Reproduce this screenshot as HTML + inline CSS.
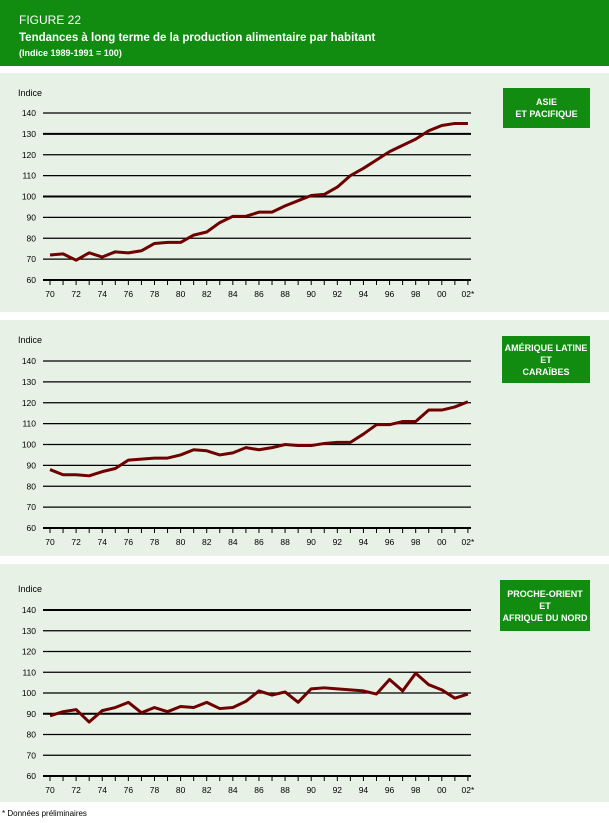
<!DOCTYPE html>
<html><head><meta charset="utf-8"><style>
body{margin:0;width:609px;height:823px;background:#fff;font-family:"Liberation Sans",sans-serif;position:relative;overflow:hidden}
#hdr{position:absolute;left:0;top:0;width:609px;height:66px;background:#118c11;color:#fff}
.p{position:absolute;left:0;width:609px;background:#e8f1e6}
svg{position:absolute;left:0;top:0}
.box{position:absolute;background:#118c11;color:#fff;font-size:9px;font-weight:bold;text-align:center;line-height:12px;display:flex;align-items:center;justify-content:center}
</style></head><body>
<div id="hdr">
<div style="position:absolute;left:19px;top:13px;font-size:12px">FIGURE 22</div>
<div style="position:absolute;left:19px;top:32px;font-size:11.5px;font-weight:bold">Tendances à long terme de la production alimentaire par habitant</div>
<div style="position:absolute;left:19px;top:48px;font-size:9px;font-weight:bold">(Indice 1989-1991 = 100)</div>
</div>
<div class="p" style="top:73px;height:239px"></div>
<div class="p" style="top:320px;height:236px"></div>
<div class="p" style="top:564px;height:238px"></div>
<div class="box" style="left:503px;top:88px;width:87px;height:40px">ASIE<br>ET PACIFIQUE</div>
<div class="box" style="left:502px;top:336px;width:88px;height:47px">AMÉRIQUE LATINE<br>ET<br>CARAÏBES</div>
<div class="box" style="left:500px;top:580px;width:90px;height:51px">PROCHE-ORIENT<br>ET<br>AFRIQUE DU NORD</div>
<div style="position:absolute;left:2px;top:809px;font-size:8px">* Données préliminaires</div>
<svg id="s" width="609" height="823"></svg>
<script>
var charts=[
{top:113,bot:280,lab:92,bold:[130,100],d:[72,72.5,69.5,73,71,73.5,73,74,77.5,78,78,81.5,83,87.5,90.5,90.5,92.5,92.5,95.5,98,100.5,101,104.5,110,113.5,117.5,121.5,124.5,127.5,131.5,134,135,135]},
{top:361,bot:528,lab:339,bold:[],d:[88,85.5,85.5,85,87,88.5,92.5,93,93.5,93.5,95,97.5,97,95,96,98.5,97.5,98.5,100,99.5,99.5,100.5,101,101,105,109.5,109.5,111,111,116.5,116.5,118,120.5]},
{top:610,bot:776,lab:588,bold:[140,90],d:[89,91,92,86,91.5,93,95.5,90.5,93,91,93.5,93,95.5,92.5,93,96,101,99,100.5,95.5,102,102.5,102,101.5,101,99.5,106.5,101,109.5,104,101.5,97.5,99.5]}];
var h='';
function X(i){return 50+i*13.06;}
charts.forEach(function(c){
 var sc=(c.bot-c.top)/80;
 function Y(v){return c.bot-(v-60)*sc;}
 h+='<text x="18" y="'+(c.lab+4)+'" font-size="9">Indice</text>';
 for(var v=60;v<=140;v+=10){var y=Y(v);var b=c.bold.indexOf(v)>=0||v==60;
  h+='<line x1="43" x2="471" y1="'+y+'" y2="'+y+'" stroke="#000" stroke-width="'+(b?2:1.2)+'"/>';
  h+='<text x="36" y="'+(y+3)+'" font-size="8.5" text-anchor="end">'+v+'</text>';}
 for(var i=0;i<=32;i++){h+='<line x1="'+X(i)+'" x2="'+X(i)+'" y1="'+c.bot+'" y2="'+(c.bot+5)+'" stroke="#000" stroke-width="1"/>';
  if(i%2==0){var yr=(70+i)%100;var t=(yr<10?'0':'')+yr;h+='<text x="'+X(i)+'" y="'+(c.bot+17)+'" font-size="8.5" text-anchor="middle">'+t+(i==32?'*':'')+'</text>';}}
 var p=c.d.map(function(v,i){return X(i)+','+Y(v)}).join(' ');
 h+='<polyline points="'+p+'" fill="none" stroke="#6e0000" stroke-width="3" stroke-linejoin="round"/>';
});
document.getElementById('s').innerHTML=h;
</script>
</body></html>
